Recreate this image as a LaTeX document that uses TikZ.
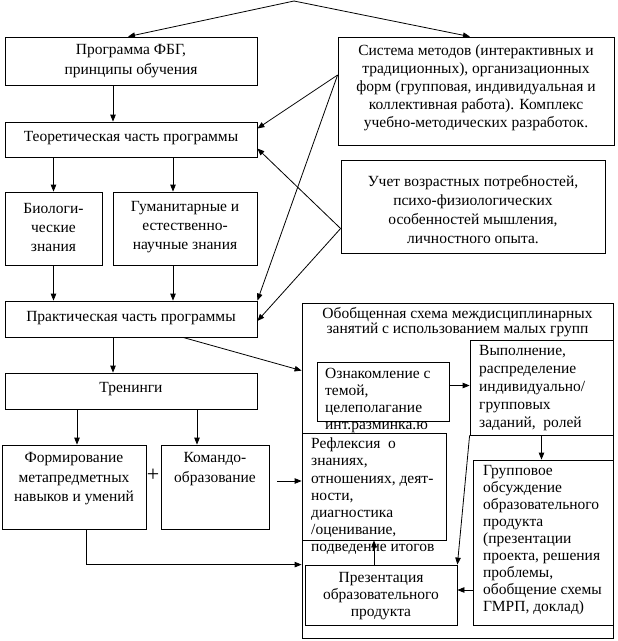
\documentclass[tikz,border=0pt]{standalone}
\usepackage{fontspec}
\setmainfont{Liberation Serif}
\usetikzlibrary{arrows.meta,fit}
\tikzset{
  box/.style={draw, line width=0.8pt, inner sep=0pt},
  lbl/.style={font=\fontsize{15.5}{#1}\selectfont, inner sep=0pt, align=center},
  lbl/.default=18,
  lbll/.style={lbl=#1, align=left, anchor=west},
  lbll/.default=17,
  arr/.style={draw, line width=0.8pt, -{Triangle[length=7pt,width=5.5pt]}},
  ln/.style={draw, line width=0.8pt},
}
\begin{document}
\begin{tikzpicture}[x=1pt,y=-1pt]
\useasboundingbox (0,0) rectangle (618,641);
% boxes
\node[box, fit={(5,37) (257,85)}] (prog) {};
\node[box, fit={(338,37) (614,145)}] (sist) {};
\node[box, fit={(5,122) (257,157)}] (theor) {};
\node[box, fit={(5,192) (102,265)}] (bio) {};
\node[box, fit={(113,192) (257,265)}] (gum) {};
\node[box, fit={(341,160) (605,253)}] (uchet) {};
\node[box, fit={(5,301) (257,337)}] (pract) {};
\node[box, fit={(302,303) (613,638)}] (big) {};
\node[box, fit={(5,373) (257,409)}] (tren) {};
\node[box, fit={(2,445) (146,529)}] (form) {};
\node[box, fit={(161,445) (269,529)}] (kom) {};
\node[box, fit={(317,362) (449,421)}] (ozn) {};
\node[box, fit={(470,340) (613,435)}] (vyp) {};
\node[box, fit={(302,433) (446,540)}] (refl) {};
\node[box, fit={(473,460) (613,625)}] (grp) {};
\node[box, fit={(305,565) (457,625)}] (pres) {};
% texts
\node[lbl=20] (progT) at (131,61) {Программа ФБГ,\\принципы обучения};
\node[lbl=18] (sistT) at (476,88) {Система методов (интерактивных и\\традиционных), организационных\\форм (групповая, индивидуальная и\\коллективная работа). Комплекс\\учебно-методических разработок.};
\node[lbl] (theorT) at (131,138) {Теоретическая часть программы};
\node[lbl=19] (bioT) at (53.5,227) {Биологи-\\ческие\\знания};
\node[lbl=19] (gumT) at (185,227) {Гуманитарные и\\естественно-\\научные знания};
\node[lbl=19] (uchetT) at (473,210) {Учет возрастных потребностей,\\психо-физиологических\\особенностей мышления,\\личностного опыта.};
\node[lbl] (practT) at (131,318) {Практическая часть программы};
\node[lbl=15.5] (bigT) at (457.5,322) {Обобщенная схема междисциплинарных\\занятий с использованием малых групп};
\node[lbl] (trenT) at (131,389) {Тренинги};
\node[lbl=19.5] (formT) at (74,479) {Формирование\\метапредметных\\навыков и умений};
\node[lbl=19.5] (komT) at (215,469) {Командо-\\образование};
\node[lbll=17] (oznT) at (325,400.5) {Ознакомление с\\темой,\\целеполагание\\инт.разминка.ю};
\node[lbll=18] (vypT) at (479,388.5) {Выполнение,\\распределение\\индивидуально/\\групповых\\заданий,\ \ ролей};
\node[lbll=17.2] (reflT) at (311,496.5) {Рефлексия\ \ о\\знаниях,\\отношениях, деят-\\ности,\\диагностика\\/оценивание,\\подведение итогов};
\node[lbll=17] (grpT) at (483,540.5) {Групповое\\обсуждение\\образовательного\\продукта\\(презентации\\проекта, решения\\проблемы,\\обобщение схемы\\ГМРП, доклад)};
\node[lbl=17] (presT) at (381,596) {Презентация\\образовательного\\продукта};
\node[font=\fontsize{22}{22}\selectfont, inner sep=0pt] (plus) at (153,475) {+};
% connectors
\coordinate (apex) at (294,1);
\draw[arr] (apex) -- ([xshift=-3pt]prog.north);
\draw[arr] (apex) -- ([xshift=-6pt]sist.north);
\coordinate (c1) at ([xshift=-18pt]prog.south);
\draw[arr] (c1) -- (c1 |- theor.north);
\draw[arr] (theor.south -| bio.north) -- (bio.north);
\coordinate (g1) at ([xshift=-12pt]gum.north);
\draw[arr] (g1 |- theor.south) -- (g1);
\draw[arr] (bio.south) -- (bio.south |- pract.north);
\coordinate (g2) at ([xshift=-12pt]gum.south);
\draw[arr] (g2) -- (g2 |- pract.north);
\coordinate (sw) at ([yshift=16pt]sist.west);
\draw[arr] (sw) -- ([yshift=11pt]theor.east);
\draw[arr] (sw) -- (pract.north east);
\coordinate (uw) at ([yshift=-22pt]uchet.west);
\draw[arr] (uw) -- ([yshift=-9pt]theor.east);
\draw[arr] (uw) -- ([yshift=-2pt]pract.east);
\coordinate (p1) at ([xshift=-18pt]pract.south);
\draw[arr] (p1) -- (p1 |- tren.north);
\coordinate (p2) at ([xshift=52pt]pract.south);
\coordinate (bt) at ([yshift=-68pt]big.north west);
\draw[arr] (p2) -- (bt);
\coordinate (t1) at ([xshift=3pt]form.north);
\draw[arr] (t1 |- tren.south) -- (t1);
\coordinate (t2) at ([xshift=-18pt]kom.north);
\draw[arr] (t2 |- tren.south) -- (t2);
\coordinate (k1) at ([xshift=8pt,yshift=6pt]kom.east);
\draw[arr] (k1) -- (k1 -| big.west);
\coordinate (f1) at ([xshift=12pt]form.south);
\draw[arr] (f1) |- (big.west |- pres.north);
\coordinate (o1) at ([yshift=6pt]ozn.east);
\draw[arr] (o1) -- (o1 -| vyp.west);
\draw[arr] (vyp.south) -- (vyp.south |- grp.north);
\draw[arr] (vyp.south west) -- (pres.north east);
\coordinate (r1) at ([yshift=5pt]pres.east);
\draw[arr] (r1 -| grp.west) -- (r1);
\draw[arr] (refl.south |- pres.north) -- (refl.south);
\end{tikzpicture}
\end{document}
